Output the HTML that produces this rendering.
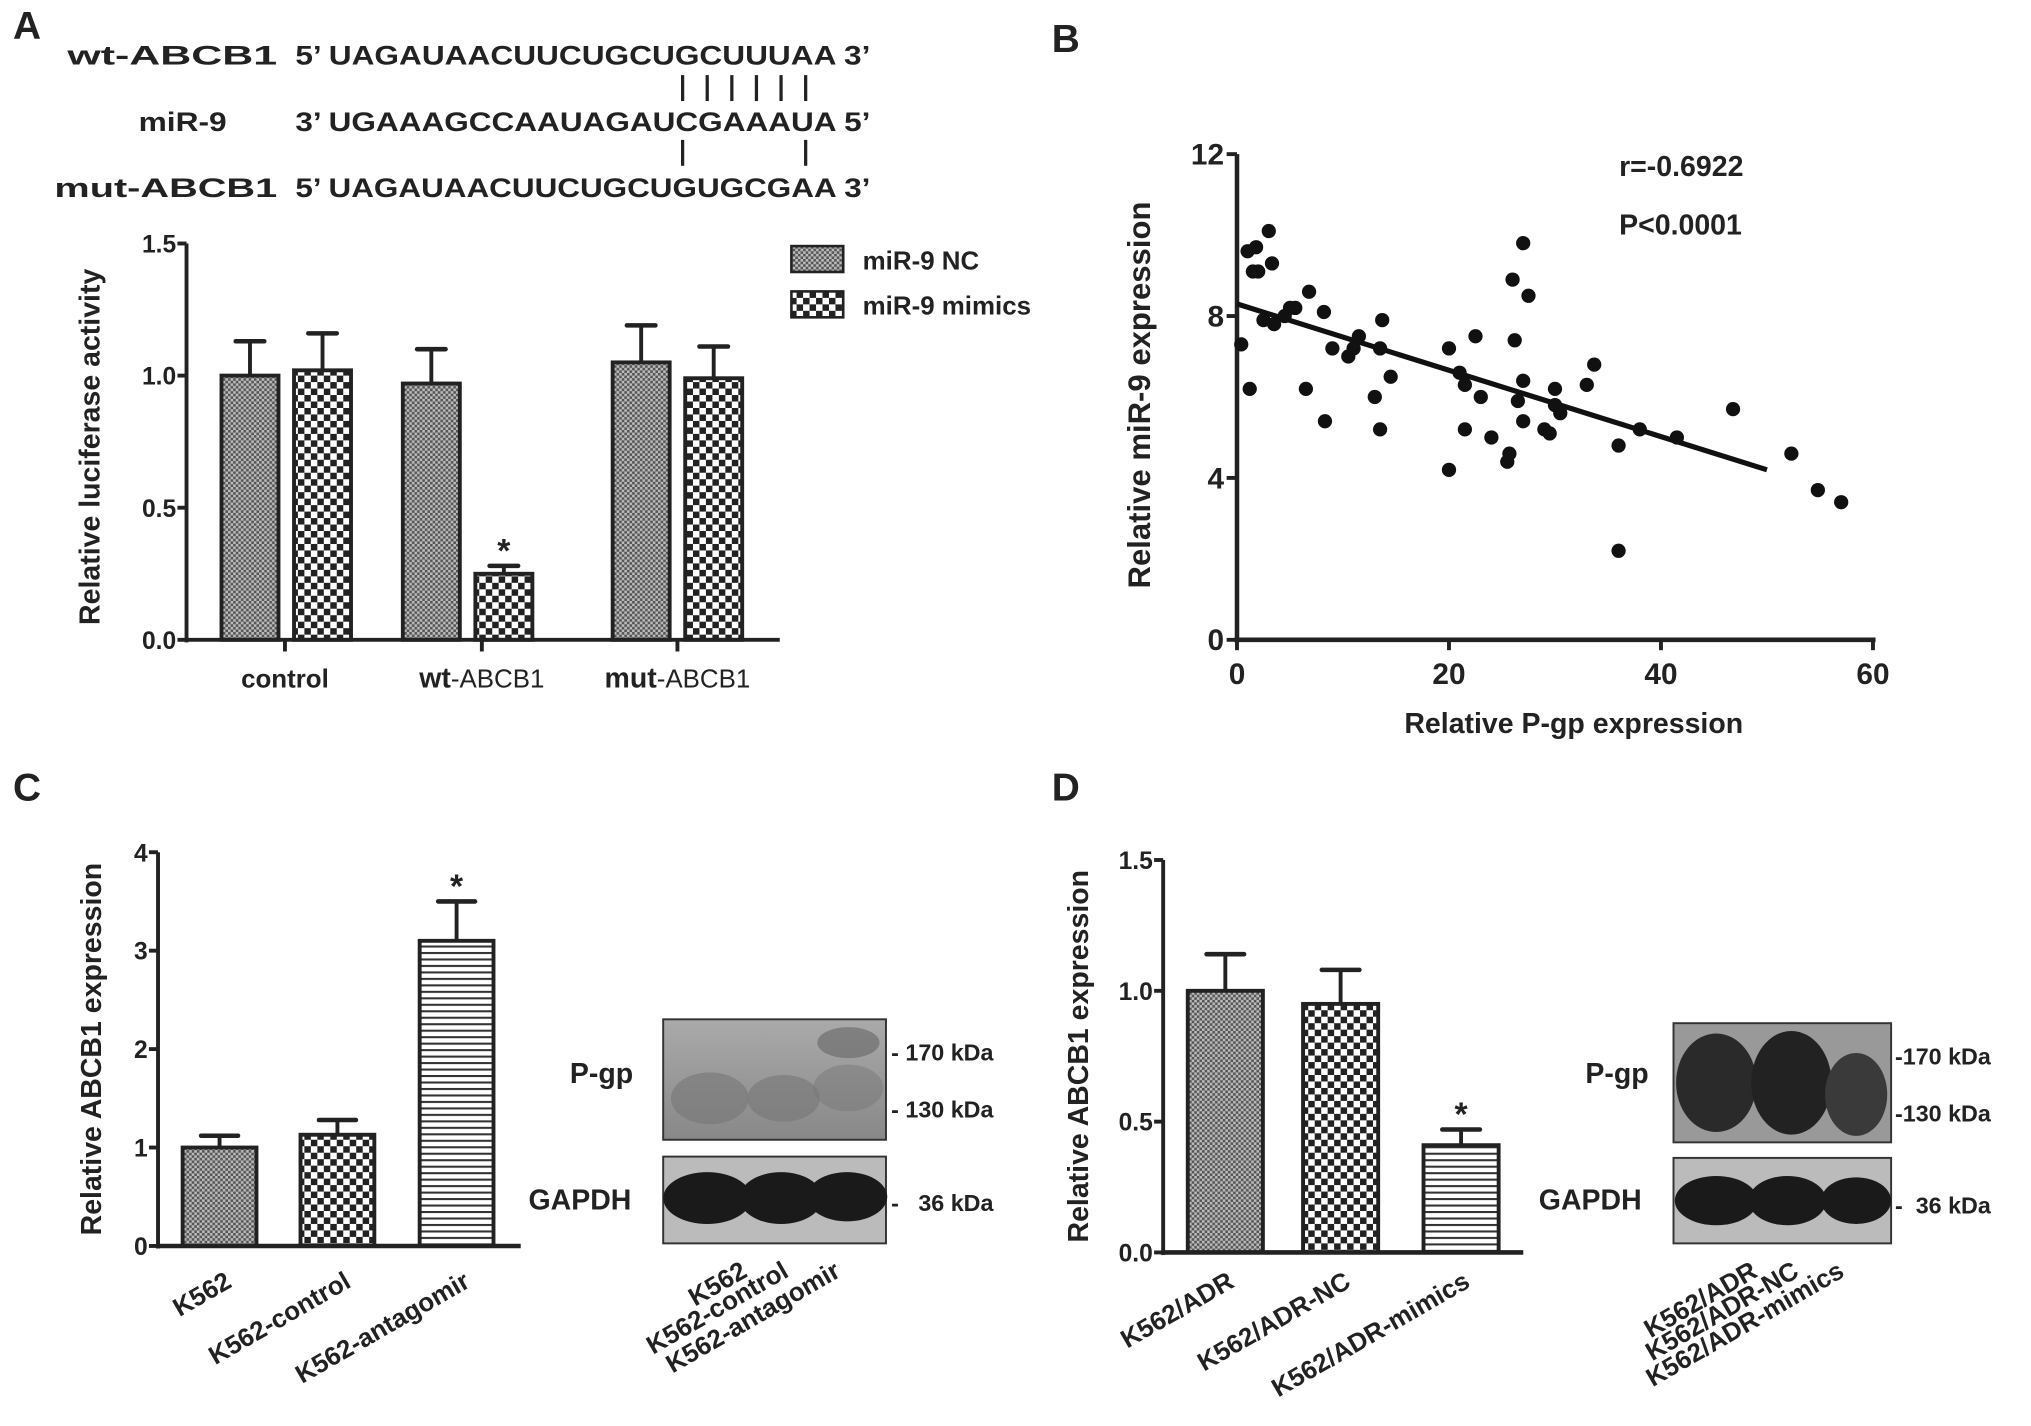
<!DOCTYPE html>
<html><head><meta charset="utf-8"><style>
html,body{margin:0;padding:0;background:#fff}
svg{display:block}
text{font-family:"Liberation Sans",Arial,sans-serif;font-weight:bold;fill:#222}
</style></head><body>
<svg id="fig" width="2031" height="1426" viewBox="0 0 1568 1101" preserveAspectRatio="none" xmlns="http://www.w3.org/2000/svg">
<defs>
<pattern id="pNC" width="4" height="4" patternUnits="userSpaceOnUse"><rect width="4" height="4" fill="#bbb"/><rect width="2" height="2" fill="#555"/><rect x="2" y="2" width="2" height="2" fill="#555"/></pattern>
<pattern id="pMim" width="10" height="10" patternUnits="userSpaceOnUse"><rect width="10" height="10" fill="#fff"/><rect width="5" height="5" fill="#222"/><rect x="5" y="5" width="5" height="5" fill="#222"/></pattern>
<pattern id="pHor" width="6" height="5" patternUnits="userSpaceOnUse"><rect width="6" height="5" fill="#fff"/><rect width="6" height="1.6" fill="#333"/></pattern>
<linearGradient id="gP" x1="0" y1="0" x2="0" y2="1"><stop offset="0" stop-color="#aaa"/><stop offset="1" stop-color="#888"/></linearGradient>
</defs>

<text x="10" y="30" font-size="30">A</text>
<text x="812" y="40" font-size="30">B</text>
<text x="10" y="618" font-size="30">C</text>
<text x="812" y="618" font-size="30">D</text>

<g>
<text x="52" y="50" font-size="21" textLength="162" lengthAdjust="spacingAndGlyphs">wt-ABCB1</text>
<text x="228" y="50" font-size="21" textLength="444" lengthAdjust="spacingAndGlyphs">5’ UAGAUAACUUCUGCUGCUUUAA 3’</text>
<text x="107" y="101" font-size="21" textLength="68" lengthAdjust="spacingAndGlyphs">miR-9</text>
<text x="228" y="101" font-size="21" textLength="444" lengthAdjust="spacingAndGlyphs">3’ UGAAAGCCAAUAGAUCGAAAUA 5’</text>
<text x="42" y="152" font-size="21" textLength="172" lengthAdjust="spacingAndGlyphs">mut-ABCB1</text>
<text x="228" y="152" font-size="21" textLength="444" lengthAdjust="spacingAndGlyphs">5’ UAGAUAACUUCUGCUGUGCGAA 3’</text>
<g stroke="#222" stroke-width="2.5">
<line x1="527" y1="58" x2="527" y2="78"/><line x1="546" y1="58" x2="546" y2="78"/><line x1="565" y1="58" x2="565" y2="78"/><line x1="584" y1="58" x2="584" y2="78"/><line x1="603" y1="58" x2="603" y2="78"/><line x1="622" y1="58" x2="622" y2="78"/>
<line x1="527" y1="108" x2="527" y2="128"/><line x1="622" y1="108" x2="622" y2="128"/>
</g></g>

<g id="pa"></g>
<g id="pb"></g>
<g id="pc"></g>
<g id="pd"></g>

<g>
<g><rect x="611" y="190" width="40" height="20" fill="url(#pNC)" stroke="#222" stroke-width="2"/><text x="666" y="208" font-size="20">miR-9 NC</text></g>
<g><rect x="611" y="225" width="40" height="20" fill="url(#pMim)" stroke="#222" stroke-width="2"/><text x="666" y="243" font-size="20">miR-9 mimics</text></g>
</g>

<g>
<rect x="512" y="787" width="172" height="93" fill="url(#gP)" stroke="#333" stroke-width="1.5"/>
<ellipse cx="548" cy="848" rx="30" ry="20" fill="#777" opacity="0.6"/><ellipse cx="605" cy="848" rx="28" ry="18" fill="#777" opacity="0.6"/><ellipse cx="655" cy="840" rx="27" ry="18" fill="#777" opacity="0.5"/><ellipse cx="655" cy="805" rx="24" ry="12" fill="#666" opacity="0.6"/>
<rect x="512" y="893" width="172" height="67" fill="#bbb" stroke="#333" stroke-width="1.5"/>
<ellipse cx="546" cy="925" rx="34" ry="20" fill="#1a1a1a"/><ellipse cx="603" cy="925" rx="32" ry="20" fill="#1a1a1a"/><ellipse cx="654" cy="924" rx="31" ry="19" fill="#1a1a1a"/>
<text x="440" y="836" font-size="22">P-gp</text><text x="408" y="934" font-size="22">GAPDH</text>
<text x="688" y="819" font-size="18">- 170 kDa</text><text x="688" y="863" font-size="18">- 130 kDa</text><text x="688" y="935" font-size="18">-&#160;&#160; 36 kDa</text>
<g font-size="20" text-anchor="end"><text transform="translate(578,985) rotate(-30)">K562</text><text transform="translate(610,985) rotate(-30)">K562-control</text><text transform="translate(650,985) rotate(-30)">K562-antagomir</text></g>
</g>
<g>
<rect x="1292" y="790" width="168" height="92" fill="#999" stroke="#333" stroke-width="1.5"/>
<ellipse cx="1325" cy="836" rx="31" ry="38" fill="#2a2a2a"/><ellipse cx="1383" cy="836" rx="31" ry="40" fill="#222"/><ellipse cx="1433" cy="845" rx="24" ry="32" fill="#3a3a3a"/>
<rect x="1292" y="894" width="168" height="66" fill="#bbb" stroke="#333" stroke-width="1.5"/>
<ellipse cx="1325" cy="927" rx="32" ry="19" fill="#1a1a1a"/><ellipse cx="1380" cy="927" rx="30" ry="19" fill="#1a1a1a"/><ellipse cx="1433" cy="927" rx="27" ry="18" fill="#1a1a1a"/>
<text x="1224" y="836" font-size="22">P-gp</text><text x="1188" y="934" font-size="22">GAPDH</text>
<text x="1463" y="822" font-size="18">-170 kDa</text><text x="1463" y="866" font-size="18">-130 kDa</text><text x="1463" y="937" font-size="18">-&#160; 36 kDa</text>
<g font-size="20" text-anchor="end"><text transform="translate(1358,985) rotate(-30)">K562/ADR</text><text transform="translate(1390,985) rotate(-30)">K562/ADR-NC</text><text transform="translate(1425,985) rotate(-30)">K562/ADR-mimics</text></g>
</g>

<script>
const aGroups = ["control", "wt-ABCB1", "mut-ABCB1"];
const aNC = [1.00, 0.97, 1.05];
const aNCerr = [0.13, 0.13, 0.14];
const aMimics = [1.02, 0.25, 0.99];
const aMimicsErr = [0.14, 0.03, 0.12];
const aTicks = [0, 0.5, 1.0, 1.5];
const bX = [0.4,1.2,1.0,1.8,1.5,2.0,3.0,3.3,2.5,3.5,4.5,5.0,5.5,6.8,6.5,8.2,8.3,9.0,10.5,11,11.5,13,13.5,13.7,13.5,14.5,20,20,21,21.5,21.5,22.5,23,24,25.5,25.7,26,26.2,27,27,27,27.5,26.5,29,29.5,30,30,30.5,33,33.7,36,36,38,41.5,46.8,52.3,54.8,57];
const bY = [7.3,6.2,9.6,9.7,9.1,9.1,10.1,9.3,7.9,7.8,8.0,8.2,8.2,8.6,6.2,8.1,5.4,7.2,7.0,7.2,7.5,6.0,5.2,7.9,7.2,6.5,4.2,7.2,6.6,6.3,5.2,7.5,6.0,5.0,4.4,4.6,8.9,7.4,6.4,9.8,5.4,8.5,5.9,5.2,5.1,6.2,5.8,5.6,6.3,6.8,4.8,2.2,5.2,5.0,5.7,4.6,3.7,3.4];
const bFitX = [0, 50];
const bFitY = [8.3, 4.2];
const bXTicks = [0, 20, 40, 60];
const bYTicks = [0, 4, 8, 12];
const cCats = ["K562", "K562-control", "K562-antagomir"];
const cVals = [1.0, 1.13, 3.1];
const cErr = [0.12, 0.15, 0.4];
const cTicks = [0, 1, 2, 3, 4];
const dCats = ["K562/ADR", "K562/ADR-NC", "K562/ADR-mimics"];
const dVals = [1.0, 0.95, 0.41];
const dErr = [0.14, 0.13, 0.06];
const dTicks = [0, 0.5, 1.0, 1.5];

const NS = "http://www.w3.org/2000/svg";
function mk(parent, tag, attrs, txt){const e=document.createElementNS(NS,tag);for(const k in attrs)e.setAttribute(k,attrs[k]);if(txt!==undefined)e.textContent=txt;parent.appendChild(e);return e;}

function yAxis(g, x, y0, y1, ticks, vmax, fmt, fs){
  const ax = mk(g,'line',{x1:x,y1:y0+2,x2:x,y2:y1,stroke:'#222','stroke-width':3});
  
  
  ticks.forEach(t=>{const y=y0-(t/vmax)*(y0-y1);
    mk(g,'line',{x1:x-7,y1:y,x2:x,y2:y,stroke:'#222','stroke-width':3});
    const tl=mk(g,'text',{x:x-8,y:y+7,'text-anchor':'end','font-size':fs,'font-weight':'normal'},fmt(t));
    
    
  });
}
function bar(g, x, w, v, err, y0, scale, fill, name){
  const yt=y0-v*scale, ye=y0-(v+err)*scale, cx=x+w/2;
  mk(g,'line',{x1:cx,y1:yt,x2:cx,y2:ye,stroke:'#222','stroke-width':3});
  mk(g,'line',{x1:cx-w/4,y1:ye,x2:cx+w/4,y2:ye,stroke:'#222','stroke-width':3.5,'stroke-linecap':'round'});
  const r=mk(g,'rect',{x:x,y:yt,width:w,height:v*scale,fill:fill,stroke:'#222','stroke-width':3});
  
  
  return yt;
}

(function(){
  const g=document.getElementById('pa'); const x0=144,y0=494,y1=188,vmax=1.5,scale=(y0-y1)/vmax;
  const cx=[171,311,473], w=44, gap=12;
  aGroups.forEach((c,i)=>{
    bar(g,cx[i],w,aNC[i],aNCerr[i],y0,scale,'url(#pNC)','bar-nc-'+c);
    bar(g,cx[i]+w+gap,w,aMimics[i],aMimicsErr[i],y0,scale,'url(#pMim)','bar-mimics-'+c);
    if(c==='wt-ABCB1'){const s=mk(g,'text',{x:cx[i]+w+gap+w/2,y:y0-(aMimics[i]+aMimicsErr[i])*scale-3,'text-anchor':'middle','font-size':26},'*');
      
      }
  });
  const xa=mk(g,'line',{x1:x0,y1:y0,x2:602,y2:y0,stroke:'#222','stroke-width':3});
  
  
  const tickX=[220,372,523];
  tickX.forEach(t=>mk(g,'line',{x1:t,y1:y0,x2:t,y2:y0+9,stroke:'#222','stroke-width':3}));
  yAxis(g,x0,y0,y1,aTicks,vmax,t=>t.toFixed(1),19);
  aGroups.forEach((c,i)=>{const t=mk(g,'text',{x:tickX[i],y:531,'text-anchor':'middle','font-size':20});
    
    
    if(i===0){t.textContent=c;}else{const p=c.split('-');mk(t,'tspan',{'font-size':22},p[0]);mk(t,'tspan',{'font-weight':'normal'},'-'+p[1]);}
  });
  const yl=mk(g,'text',{transform:'translate(77,345) rotate(-90)','text-anchor':'middle','font-size':22},'Relative luciferase activity');
  
  
})();

(function(){
  const g=document.getElementById('pb'); const x0=955,x1=1446,y0=494,y1=119;
  const sx=v=>x0+v/60*(x1-x0), sy=v=>y0-v/12*(y0-y1);
  const xa=mk(g,'line',{x1:x0-2,y1:y0,x2:x1+2,y2:y0,stroke:'#222','stroke-width':3.5});
  
  
  const ya=mk(g,'line',{x1:x0,y1:y0+2,x2:x0,y2:y1,stroke:'#222','stroke-width':3.5});
  
  
  bXTicks.forEach(t=>{mk(g,'line',{x1:sx(t),y1:y0,x2:sx(t),y2:y0+8,stroke:'#222','stroke-width':3});
    const l=mk(g,'text',{x:sx(t),y:y0+34,'text-anchor':'middle','font-size':23,'font-weight':'normal'},t);
    
    });
  bYTicks.forEach(t=>{mk(g,'line',{x1:x0-8,y1:sy(t),x2:x0,y2:sy(t),stroke:'#222','stroke-width':3});
    const l=mk(g,'text',{x:x0-10,y:sy(t)+8,'text-anchor':'end','font-size':23,'font-weight':'normal'},t);
    
    });
  const fit=mk(g,'line',{x1:sx(bFitX[0]),y1:sy(bFitY[0]),x2:sx(bFitX[1]),y2:sy(bFitY[1]),stroke:'#111','stroke-width':4});
  
  
  bX.forEach((v,i)=>{const c=mk(g,'circle',{cx:sx(v),cy:sy(bY[i]),r:5.5,fill:'#111'});
    
    });
  const t1=mk(g,'text',{x:1250,y:136,'font-size':22,'font-weight':'normal'},'r=-0.6922');
  
  
  const t2=mk(g,'text',{x:1250,y:181,'font-size':22,'font-weight':'normal'},'P<0.0001');
  
  
  const xt=mk(g,'text',{x:1215,y:566,'text-anchor':'middle','font-size':22},'Relative P-gp expression');
  
  
  const yt=mk(g,'text',{transform:'translate(888,305) rotate(-90)','text-anchor':'middle','font-size':24},'Relative miR-9 expression');
  
  
})();

function simpleBars(id, cats, vals, errs, ticks, x0, xend, y0, y1, vmax, bx, w, fills, fmt, ytitle, ytx, labX, labY){
  const g=document.getElementById(id); const scale=(y0-y1)/vmax;
  cats.forEach((c,i)=>{
    bar(g,bx[i],w,vals[i],errs[i],y0,scale,fills[i],'bar-'+c.toLowerCase().replace(/[^a-z0-9]+/g,'-'));
    if(i===2){const s=mk(g,'text',{x:bx[i]+w/2,y:y0-(vals[i]+errs[i])*scale-3,'text-anchor':'middle','font-size':26},'*');
      
      }
    const l=mk(g,'text',{transform:'translate('+labX[i]+','+labY[i]+') rotate(-30)','text-anchor':'end','font-size':20},c);
    
    
  });
  const xa=mk(g,'line',{x1:x0,y1:y0,x2:xend,y2:y0,stroke:'#222','stroke-width':3.5});
  
  
  yAxis(g,x0,y0,y1,ticks,vmax,fmt,19);
  const yt=mk(g,'text',{transform:'translate('+ytx+','+((y0+y1)/2)+') rotate(-90)','text-anchor':'middle','font-size':22},ytitle);
  
  
}
simpleBars('pc',cCats,cVals,cErr,cTicks,122,402,962,658,4,[141,232,324],57,['url(#pNC)','url(#pMim)','url(#pHor)'],t=>String(t),'Relative  ABCB1 expression',78,[180,272,364],[993,993,993]);
simpleBars('pd',dCats,dVals,dErr,dTicks,898,1176,967,664,1.5,[917,1006,1099],58,['url(#pNC)','url(#pMim)','url(#pHor)'],t=>t.toFixed(1),'Relative  ABCB1 expression',840,[954,1044,1136],[993,993,993]);
</script>
</svg>
</body></html>
